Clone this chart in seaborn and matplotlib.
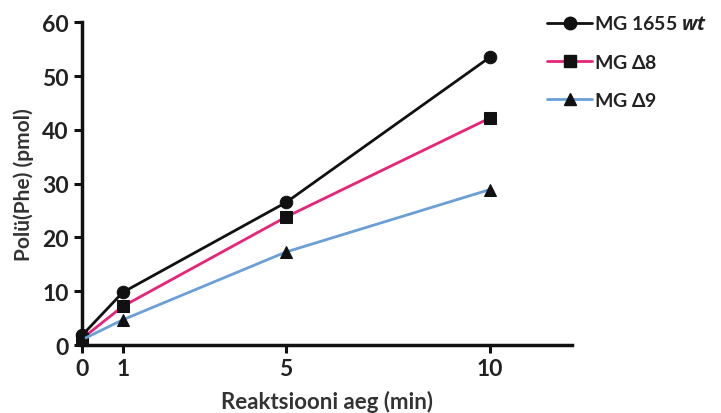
import matplotlib
matplotlib.use("Agg")
import matplotlib.pyplot as plt
import seaborn as sns
import pandas as pd

times = [0, 1, 5, 10]
wt = [1.8, 9.8, 26.5, 53.5]
d8 = [1.2, 7.2, 23.8, 42.2]
d9 = [1.0, 4.7, 17.3, 28.9]
labels = ["MG 1655 $\\mathit{wt}$", "MG $\\mathit{\u03948}$", "MG $\\mathit{\u03949}$"]
colors = ["#111111", "#E8237A", "#6A9FD8"]
markers = ["o", "s", "^"]
xticks = [0, 1, 5, 10]
yticks = [0, 10, 20, 30, 40, 50, 60]

sns.set_style("ticks")
plt.rcParams["font.family"] = ["Lato", "DejaVu Sans"]
plt.rcParams["font.weight"] = "bold"
plt.rcParams["mathtext.fontset"] = "custom"
plt.rcParams["mathtext.it"] = "Open Sans:italic:bold"
plt.rcParams["mathtext.rm"] = "Lato:bold"

rows = []
for lab, vals in zip(labels, [wt, d8, d9]):
    for t, v in zip(times, vals):
        rows.append({"t": t, "v": v, "s": lab})
df = pd.DataFrame(rows)

fig = plt.figure(figsize=(7.21, 4.14), dpi=100)
ax = fig.add_axes([0.1137, 0.164, 0.679, 0.78])

sns.lineplot(data=df, x="t", y="v", hue="s", style="s", hue_order=labels,
             style_order=labels, palette=colors, markers=markers, dashes=False,
             markersize=9, linewidth=2, ax=ax, legend=False)
for line in ax.lines:
    line.set_markerfacecolor("#111111")
    line.set_markeredgecolor("#111111")
    line.set_clip_on(False)

ax.set_xlim(0, 12)
ax.set_ylim(0, 60)
ax.set_xticks(xticks)
ax.set_yticks(yticks)
ax.tick_params(axis="both", width=2.2, length=6, labelsize=16.5, color="#111111",
               labelcolor="#222222")
for sp in ["left", "bottom"]:
    ax.spines[sp].set_linewidth(2.5)
    ax.spines[sp].set_color("#111111")
sns.despine(ax=ax)
ax.set_xlabel("Reaktsiooni aeg (min)", fontsize=16, fontweight="bold", color="#333333", labelpad=8)
ax.set_ylabel("Polü(Phe) (pmol)", fontsize=15, fontweight="bold", color="#333333", labelpad=6)

from matplotlib.lines import Line2D
handles = [Line2D([], [], color=c, marker=m, markersize=9, linewidth=2,
                  markerfacecolor="#111111", markeredgecolor="#111111")
           for c, m in zip(colors, markers)]
leg = fig.legend(handles, labels, loc="upper left", bbox_to_anchor=(0.735, 1.005),
                 frameon=False, fontsize=14, handlelength=2.3, handletextpad=0.1,
                 labelspacing=1.05)
for t in leg.get_texts():
    t.set_fontweight("bold")
    t.set_color("#222222")

fig.savefig("out.png", dpi=100)
